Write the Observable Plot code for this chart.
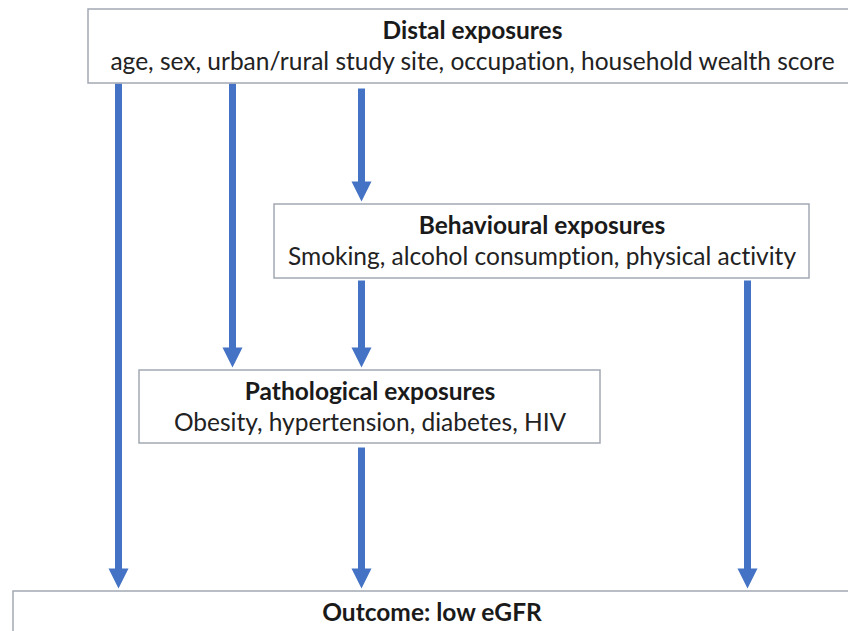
<!DOCTYPE html>
<html>
<head>
<meta charset="utf-8">
<script src="https://cdn.jsdelivr.net/npm/d3@7"></script>
<script src="https://cdn.jsdelivr.net/npm/@observablehq/plot@0.6"></script>
<style>
  html, body { margin: 0; padding: 0; background: #fff; overflow: hidden; }
  #chart { width: 848px; height: 631px; }
  #chart text { font-variant-ligatures: none; font-feature-settings: "liga" 0; }
</style>
</head>
<body>
<div id="chart"></div>
<script>
// ---- content ----
const boxIds = ["distal", "behavioural", "pathological", "outcome"];
const boxTitles = ["Distal exposures", "Behavioural exposures", "Pathological exposures", "Outcome: low eGFR"];
const boxDetails = [
  "age, sex, urban/rural study site, occupation, household wealth score",
  "Smoking, alcohol consumption, physical activity",
  "Obesity, hypertension, diabetes, HIV",
  ""
];
const pathFrom = ["distal", "distal", "distal", "behavioural", "behavioural", "pathological"];
const pathTo   = ["outcome", "pathological", "behavioural", "pathological", "outcome", "outcome"];

// ---- layout (pixel positions on a 848x631 canvas) ----
const boxLeft   = [88, 274, 139, 13];
const boxRight  = [856, 809, 600, 850];
const boxTop    = [9, 204, 370, 591];
const boxBottom = [83, 278, 443, 640];
const arrowX    = [118, 232, 361, 361, 747, 361];
const arrowGap  = [0, 0, 5, 2, 2, 4];
const titleOffset = 29, detailOffset = 60, tipGap = 3, headSize = 10;

const boxes = boxIds.map((id, i) => ({
  id, title: boxTitles[i], detail: boxDetails[i],
  x1: boxLeft[i], x2: boxRight[i], y1: boxTop[i], y2: boxBottom[i],
  cx: (boxLeft[i] + boxRight[i]) / 2
}));
const byId = Object.fromEntries(boxes.map(b => [b.id, b]));
const arrows = pathFrom.map((f, i) => {
  const tip = byId[pathTo[i]].y1 - tipGap;
  return {x: arrowX[i], y1: byId[f].y2 + arrowGap[i], y2: tip - headSize * 2 + 2, head: tip - headSize};
});

const downTriangle = {
  draw(ctx, size) {
    const r = Math.sqrt(size / Math.PI);
    ctx.moveTo(-r, -r); ctx.lineTo(r, -r); ctx.lineTo(0, r); ctx.closePath();
  }
};

const blue = "#4472c4";
const chart = Plot.plot({
  width: 848, height: 631,
  margin: 0,
  x: {domain: [0, 848], axis: null},
  y: {domain: [0, 631], reverse: true, axis: null},
  style: {fontFamily: "Lato, 'Open Sans', sans-serif", background: "#fff", color: "#222"},
  marks: [
    Plot.link(arrows, {x1: "x", x2: "x", y1: "y1", y2: "y2", stroke: blue, strokeWidth: 7, strokeLinecap: "butt"}),
    Plot.dot(arrows, {x: "x", y: "head", symbol: downTriangle, r: headSize, fill: blue, stroke: "none"}),
    Plot.rect(boxes, {x1: "x1", x2: "x2", y1: "y1", y2: "y2", fill: "white", stroke: "#a3a8b3", strokeWidth: 1.5, clip: true}),
    Plot.text(boxes, {x: "cx", y: d => d.y1 + titleOffset, text: "title", lineAnchor: "bottom", fontWeight: "bold", fontSize: 24.5, fill: "#1a1a1a"}),
    Plot.text(boxes, {x: "cx", y: d => d.y1 + detailOffset, text: "detail", lineAnchor: "bottom", fontSize: 24.5, fill: "#222"})
  ]
});
document.getElementById("chart").appendChild(chart);
</script>
</body>
</html>
